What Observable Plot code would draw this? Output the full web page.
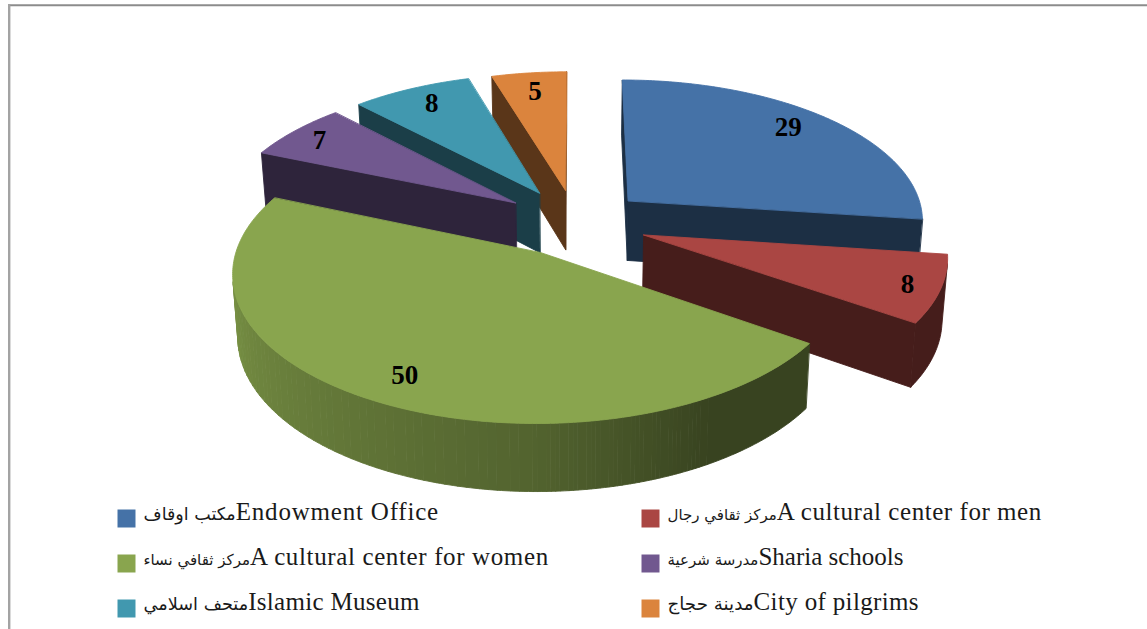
<!DOCTYPE html>
<html>
<head>
<meta charset="utf-8">
<script src="https://cdn.jsdelivr.net/npm/d3@7"></script>
<script src="https://cdn.jsdelivr.net/npm/@observablehq/plot@0.6"></script>
<style>
html,body{margin:0;padding:0;background:#fff;overflow:hidden}
svg{display:block}
</style>
</head>
<body>
<div id="chart"></div>
<script>
// ---- data ----
const arabicNames = ["مكتب اوقاف","مركز ثقافي رجال","مركز ثقافي نساء","مدرسة شرعية","متحف اسلامي","مدينة حجاج"];
const englishNames = ["Endowment Office","A cultural center for men","A cultural center for women","Sharia schools","Islamic Museum","City of pilgrims"];
const values = [29, 8, 50, 7, 8, 5];
const colors = ["#4572A7","#AA4643","#89A54E","#71588F","#4198AF","#DB843D"];

// ---- 3-D view of the pie (unit-circle world, projected, then through Plot's x/y scales) ----
const view = {cx:575, cy:222, A:297, B:141, persp:0.126, depth:0.43, taper:0.985};
const explode = [0.24,0.243,0.2373,0.249,0.247,0.2373];
const labelRadius = [0.82,0.87,0.85,0.9,0.85,0.85];
const labelNudge = [[-5,-2],[7,6],[5,3],[4,6],[3,3],[1,5]];
const drawOrder = [5,0,4,3,1,2];
const legendCols = [117,641], legendRows = [518,563,608], legendTextDx = 26;
const arabicSize = [17.5,15,15,15,17.7,18.3];
const englishSpacing = [0.8,0.55,0.63,0,0.3,0.35];

const total = d3.sum(values);
const cum = d3.cumsum(values);
const slices = values.map((v,i)=>{
  const a1 = (i ? cum[i-1] : 0)/total*2*Math.PI, a2 = cum[i]/total*2*Math.PI;
  const mid = (a1+a2)/2;
  return {i, a1, a2, mid, ox:explode[i]*Math.sin(mid), oy:-explode[i]*Math.cos(mid)};
});
const persp = Y=>1/(1-view.persp*Y);
const topPt = (X,Y)=>{const f=persp(Y); return [X*f, Y*f];};
const botPt = (X,Y)=>{const f=persp(Y); return [X*f*view.taper, Y*f+view.depth*Math.pow(f,0.7)];};
const wallShade = d3.scaleLinear().domain([0,150,180,270,360]).range([0.41,0.41,0.6,0.9,0.9]).clamp(true);
const shade = (c,k)=>{const r=d3.rgb(c);return d3.rgb(r.r*k,r.g*k,r.b*k).formatHex();};

const rows = [];
let pid = 0;
const poly = (pts,color)=>{const id=pid++; pts.forEach(p=>rows.push({id,x:p[0],y:p[1],color}));};
const faces = (p1,p2)=>d3.polygonArea([topPt(...p1),topPt(...p2),botPt(...p2),botPt(...p1)])>0;
function wall(p1,p2,color){ if(faces(p1,p2)) poly([topPt(...p1),topPt(...p2),botPt(...p2),botPt(...p1)],color); }
function band(points,color){
  poly([...points.map(p=>topPt(...p)),...points.slice().reverse().map(p=>botPt(...p))],color);
}
for(const k of drawOrder){
  const s=slices[k], base=colors[k], apex=[s.ox,s.oy];
  const n=Math.max(2,Math.ceil((s.a2-s.a1)/(Math.PI/240)));
  const arc=d3.range(n+1).map(j=>{
    const t=s.a1+(s.a2-s.a1)*j/n;
    return {t,p:[s.ox+Math.sin(t),s.oy-Math.cos(t)]};
  });
  wall(apex,arc[0].p,shade(base,0.41));
  wall(arc[n].p,apex,shade(base,0.41));
  let cur=null, curK=null;
  for(let j=0;j<n;j++){
    if(!faces(arc[j].p,arc[j+1].p)){ if(cur){band(cur,shade(base,curK));cur=null;} continue; }
    const deg=(arc[j].t+arc[j+1].t)/2*180/Math.PI;
    const kq=Math.round(wallShade(deg)/0.006)*0.006;
    if(cur && kq===curK){cur.push(arc[j+1].p);}
    else{ if(cur) band(cur,shade(base,curK)); cur=[arc[j].p,arc[j+1].p]; curK=kq; }
  }
  if(cur) band(cur,shade(base,curK));
  poly([topPt(...apex),...arc.map(a=>topPt(...a.p))],base);
}
const labels = slices.map(s=>{
  const r=labelRadius[s.i];
  const [x,y]=topPt(s.ox+r*Math.sin(s.mid),s.oy-r*Math.cos(s.mid));
  return {x,y,text:String(values[s.i]),i:s.i};
});

const W=1147,H=629;
const xScale={domain:[-1,1],range:[view.cx-view.A,view.cx+view.A],axis:null};
const yScale={domain:[-1,1],range:[view.cy-view.B,view.cy+view.B],axis:null};
const invX=px=>(px-view.cx)/view.A, invY=py=>(py-view.cy)/view.B;

const legendMarks=[];
englishNames.forEach((name,i)=>{
  const dx=legendCols[i%2], dy=legendRows[Math.floor(i/2)];
  legendMarks.push(Plot.dot([0],{frameAnchor:"top-left",dx:dx+9,dy,symbol:"square",r:18/Math.sqrt(Math.PI),fill:colors[i],stroke:"none"}));
  legendMarks.push(Plot.text([arabicNames[i]+name],{text:d=>d,frameAnchor:"top-left",dx:dx+legendTextDx,dy:dy-2,textAnchor:"start",lineAnchor:"middle",fill:"#1a1a1a",className:"legend legend-"+i}));
});

const plot=Plot.plot({
  width:W,height:H,margin:0,
  x:xScale,y:yScale,color:{type:"identity"},
  style:{background:"#fff"},
  marks:[
    Plot.ruleY([invY(4.8)],{stroke:"#8c8c8c",strokeWidth:2,x1:invX(8),x2:invX(1147)}),
    Plot.ruleX([invX(8.7)],{stroke:"#a3a3a3",strokeWidth:2.4,y1:invY(4),y2:invY(629)}),
    Plot.line(rows,{x:"x",y:"y",z:"id",fill:"color",stroke:"color",strokeWidth:0.9,curve:"linear-closed"}),
    ...labels.map(l=>Plot.text([l],{x:"x",y:"y",dx:labelNudge[l.i][0],dy:-3+labelNudge[l.i][1],text:"text",fontFamily:"Liberation Serif",fontWeight:"bold",fontSize:27,fill:"#000"})),
    ...legendMarks
  ]
});
englishNames.forEach((_,i)=>{
  d3.select(plot).selectAll(".legend-"+i+" text").each(function(){
    const full=this.textContent, m=full.match(/^([\u0600-\u06FF\s]+)(.*)$/);
    const t=d3.select(this).text("");
    t.append("tspan").attr("font-family","DejaVu Sans").attr("font-size",arabicSize[i]).text(m[1]);
    t.append("tspan").attr("font-family","Liberation Serif").attr("font-size",25).attr("letter-spacing",englishSpacing[i]).text(m[2]);
  });
});
document.getElementById("chart").append(plot);
</script>
</body>
</html>
